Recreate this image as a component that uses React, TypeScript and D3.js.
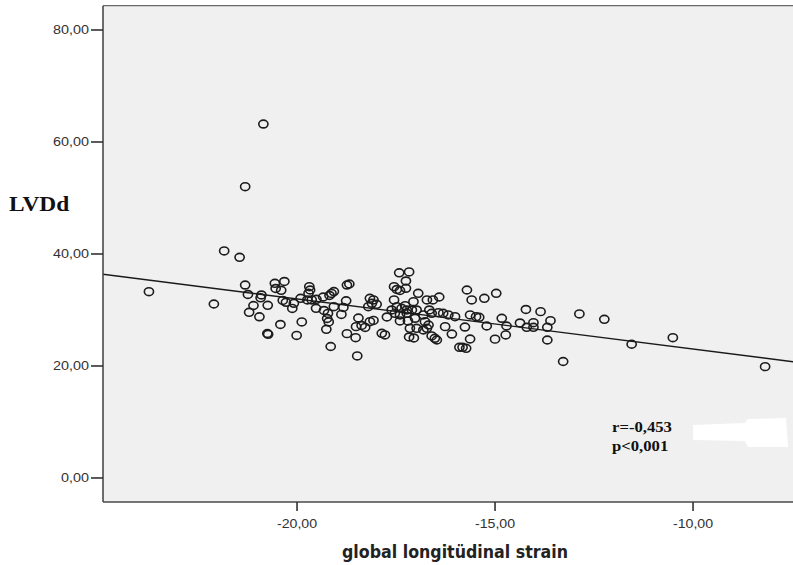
import React from "react";
import * as d3 from "d3";

// global longitudinal strain (x) and LVDd (y)
const glsValues: number[] = [
  -23.74, -22.10, -21.84, -21.45, -20.85, -21.31, -13.28, -12.87, -12.24, -11.55, -10.51, -8.18,
  -13.60, -13.68, -13.68, -13.85,
  -21.31, -21.24, -21.10, -21.21, -20.95, -20.90, -20.92, -20.74, -20.75, -20.73,
  -20.56, -20.54, -20.32, -20.40, -20.36, -20.28, -20.08, -20.12, -20.42, -20.01,
  -19.88, -19.91, -19.69, -19.67, -19.71, -19.74, -19.63, -19.51, -19.52, -19.32,
  -19.34, -19.22, -19.24, -19.20, -19.26, -19.15, -19.18, -19.13, -19.07,
  -18.74, -18.68, -18.76, -19.07, -18.83, -18.88, -18.74, -18.52, -18.48, -18.45,
  -18.16, -18.07, -18.11, -17.99, -18.20, -18.51, -18.37, -18.28, -18.16, -18.07,
  -17.86, -17.78, -17.73, -17.55, -17.48, -17.40, -17.25, -17.42, -17.17, -17.25,
  -17.55, -17.48, -17.36, -17.27, -17.61, -17.53, -17.40, -17.23, -17.40, -17.20,
  -17.15, -17.17, -17.05, -16.94, -17.06, -17.23, -17.10, -16.98,
  -16.72, -16.57, -16.41, -16.66, -16.60, -16.43, -16.31, -16.18, -16.01,
  -17.02, -16.81, -16.77, -16.68, -16.98, -16.81, -16.72, -16.60, -16.52, -16.47,
  -16.26, -16.09, -15.76, -15.63, -15.90, -15.82, -15.73, -15.71, -15.59, -15.63,
  -15.48, -15.40, -15.27, -15.21, -14.97, -14.83, -14.71, -14.73, -15.00,
  -14.37, -14.22, -14.20, -14.03, -14.03,
];
const lvddValues: number[] = [
  33.27, 31.07, 40.54, 39.41, 63.21, 52.02, 20.80, 29.29, 28.34, 23.88, 25.05, 19.88,
  28.09, 26.91, 24.64, 29.70,
  34.46, 32.77, 30.80, 29.59, 28.79, 32.68, 32.18, 30.84, 25.80, 25.66,
  34.77, 33.84, 35.09, 33.52, 31.70, 31.38, 31.20, 30.27, 27.41, 25.45,
  27.86, 32.09, 34.16, 33.57, 32.98, 31.79, 31.79, 31.91, 30.30, 29.91,
  32.32, 29.38, 28.48, 27.86, 26.55, 23.48, 32.59, 32.95, 33.30,
  34.46, 34.64, 31.64, 30.59, 30.45, 29.20, 25.77, 25.05, 21.79, 28.57,
  32.09, 31.79, 31.20, 31.02, 30.59, 27.02, 27.23, 26.88, 27.91, 28.13,
  25.84, 25.54, 28.75, 34.16, 33.66, 33.48, 33.88, 36.64, 36.79, 35.18,
  31.79, 30.59, 30.30, 30.77, 30.00, 29.41, 29.11, 29.41, 28.04, 28.04,
  26.73, 25.18, 25.00, 32.98, 31.48, 30.00, 30.00, 30.00,
  31.79, 31.79, 32.32, 30.00, 29.41, 29.52, 29.41, 29.11, 28.80,
  28.52, 29.11, 27.91, 27.32, 26.73, 26.43, 26.73, 25.36, 24.95, 24.64,
  27.02, 25.71, 26.96, 24.82, 23.34, 23.34, 23.16, 33.57, 31.79, 29.11,
  28.80, 28.70, 32.09, 27.14, 32.98, 28.52, 27.14, 25.54, 24.79,
  27.68, 30.09, 26.91, 27.73, 26.91,
];

const xTicks: number[] = [-20, -15, -10];
const yTicks: number[] = [0, 20, 40, 60, 80];
const xDomain: [number, number] = [-24.9, -7.4];
const yDomain: [number, number] = [-4.29, 84.34];

// fit line
const regIntercept = 14.06;
const regSlope = -0.896;

const xTitle = "global longitüdinal strain";
const yTitle = "LVDd";
const statLines: string[] = ["r=-0,453", "p<0,001"];

const fmt = (v: number) => v.toFixed(2).replace(".", ",");

export default function App() {
  const W = 793;
  const H = 565;
  const left = 103;
  const right = 796;
  const top = 5.7;
  const bottom = 502;

  const x = d3.scaleLinear().domain(xDomain).range([left, right]);
  const y = d3.scaleLinear().domain(yDomain).range([bottom, top]);

  const lineGen = d3
    .line<number>()
    .x((d) => x(d))
    .y((d) => y(regIntercept + regSlope * d));

  const tickFont = "'Liberation Sans', Arial, sans-serif";
  const serif = "'Liberation Serif', 'Times New Roman', serif";

  return (
    <svg
      width={W}
      height={H}
      style={{ position: "absolute", left: 0, top: 0, background: "#fff" }}
    >
      <defs>
        <clipPath id="plotClip">
          <rect x={left} y={top} width={right - left} height={bottom - top} />
        </clipPath>
      </defs>
      <rect x={left} y={top} width={right - left} height={bottom - top} fill="#f0f0f0" />

      {/* regression line */}
      <path
        d={lineGen(xDomain) || ""}
        stroke="#1a1a1a"
        strokeWidth={1.4}
        fill="none"
        clipPath="url(#plotClip)"
      />

      {/* points */}
      <g clipPath="url(#plotClip)">
        {glsValues.map((g, i) => (
          <ellipse
            key={i}
            cx={x(g)}
            cy={y(lvddValues[i])}
            rx={4.6}
            ry={3.9}
            fill="none"
            stroke="#1c1c1c"
            strokeWidth={1.6}
          />
        ))}
      </g>

      {/* frame */}
      <line x1={left} x2={right} y1={top} y2={top} stroke="#6a6a6a" strokeWidth={1.2} />
      <line x1={left} x2={left} y1={top} y2={bottom} stroke="#4a4a4a" strokeWidth={1.6} />
      <line x1={left} x2={right} y1={bottom} y2={bottom} stroke="#4a4a4a" strokeWidth={1.6} />

      {/* y axis */}
      {yTicks.map((t) => (
        <g key={t}>
          <line x1={left - 12} x2={left} y1={y(t)} y2={y(t)} stroke="#333" strokeWidth={1.6} />
          <text
            transform={`translate(${left - 14},${y(t) + 4.3}) scale(1.2,1)`}
            textAnchor="end"
            fontFamily={tickFont}
            fontSize={12}
            fill="#333"
          >
            {fmt(t)}
          </text>
        </g>
      ))}

      {/* x axis */}
      {xTicks.map((t) => (
        <g key={t}>
          <line x1={x(t)} x2={x(t)} y1={bottom} y2={bottom + 9} stroke="#333" strokeWidth={1.6} />
          <text
            transform={`translate(${x(t)},${bottom + 25.5}) scale(1.18,1)`}
            textAnchor="middle"
            fontFamily={tickFont}
            fontSize={12}
            fill="#333"
          >
            {fmt(t)}
          </text>
        </g>
      ))}

      {/* axis titles */}
      <text
        x={455}
        y={557.5}
        textAnchor="middle"
        fontFamily="'DejaVu Sans', Verdana, sans-serif"
        fontWeight="bold"
        fontSize={17}
        textLength={226}
        lengthAdjust="spacingAndGlyphs"
        fill="#222"
      >
        {xTitle}
      </text>
      <text
        transform={`translate(9,211) scale(1.17,1)`}
        fontFamily={serif}
        fontWeight="bold"
        fontSize={20}
        fill="#111"
      >
        {yTitle}
      </text>

      {/* stats annotation */}
      {statLines.map((s, i) => (
        <text
          key={s}
          transform={`translate(612,${432 + i * 19}) scale(1.15,1)`}
          fontFamily={serif}
          fontWeight="bold"
          fontSize={14.5}
          fill="#111"
        >
          {s}
        </text>
      ))}
      {/* erased patch */}
      <path
        d="M693,425 L745,423 L748,419 L786,418 L788,447 L748,447 L745,441 L693,440 Z"
        fill="#ffffff"
      />
    </svg>
  );
}
